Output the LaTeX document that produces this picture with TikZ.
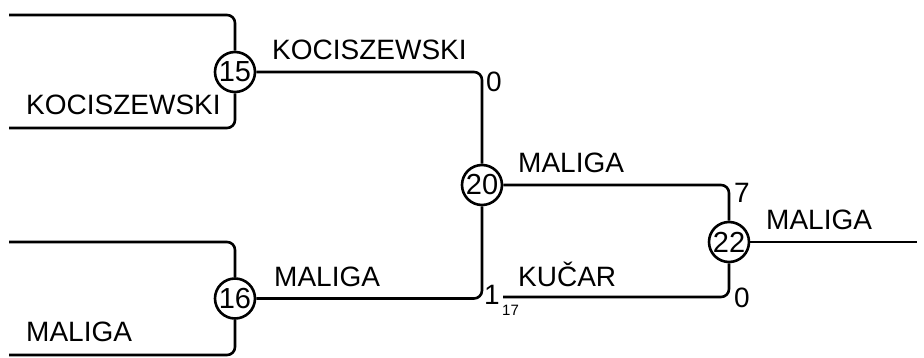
\documentclass[tikz,border=0pt]{standalone}
\usepackage{fontspec}
\setmainfont{Liberation Sans}
\begin{document}
\begin{tikzpicture}[x=1pt,y=-1pt,
  wire/.style={line width=2.6pt,rounded corners=8pt},
  match/.style={circle,draw,line width=2.6pt,inner sep=0pt,minimum size=40pt,font=\fontsize{29}{31}\selectfont},
  lbl/.style={anchor=base west,inner sep=0pt,font=\fontsize{28}{30}\selectfont},
  sub/.style={anchor=base west,inner sep=0pt,font=\fontsize{15}{17}\selectfont}]
\useasboundingbox (0,0) rectangle (924,358);
% matches
\node[match] (c15) at (235,72) {15};
\node[match] (c16) at (235,298.5) {16};
\node[match] (c20) at (482,185) {20};
\node[match] (c22) at (729,242) {22};
% free ends
\coordinate (a1) at (9,15);
\coordinate (a2) at (9,128);
\coordinate (b1) at (9,242);
\coordinate (b2) at (9,355);
\coordinate (k1) at (503,297);
\coordinate (fin) at (917,242);
% wires
\draw[wire] (a1) -| (c15);
\draw[wire] (a2) -| (c15);
\draw[wire] (b1) -| (c16);
\draw[wire] (b2) -| (c16);
\draw[wire] (c15) -| (c20);
\draw[wire] (c16) -| (c20);
\draw[wire] (c20) -| (c22);
\draw[wire] (k1) -| (c22);
\draw[wire] (c22) -- (fin);
% labels
\node[lbl] (l1) at (272,60) {KOCISZEWSKI};
\node[lbl] (l2) at (26,115) {KOCISZEWSKI};
\node[lbl] (l3) at (26,341) {MALIGA};
\node[lbl] (l4) at (274,287) {MALIGA};
\node[lbl] (l5) at (518,173) {MALIGA};
\node[lbl] (l6) at (518,287) {KUČAR};
\node[lbl] (l7) at (766,230) {MALIGA};
\node[lbl] (s1) at (486,92) {0};
\node[lbl] (s2) at (734,203) {7};
\node[lbl] (s3) at (734,307) {0};
\node[lbl] (s4) at (484,305) {1};
\node[sub] (s5) at (502,315) {17};
\end{tikzpicture}
\end{document}
